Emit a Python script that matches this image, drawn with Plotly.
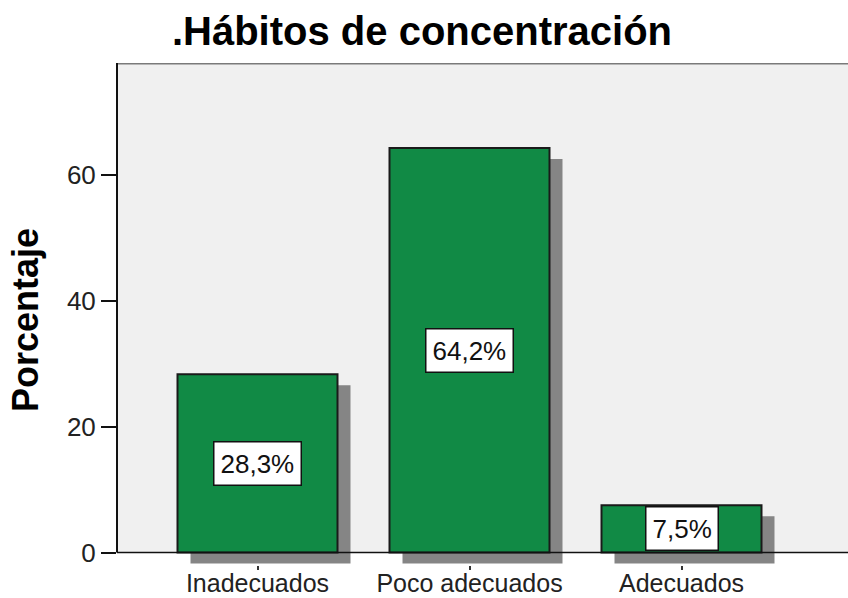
import plotly.graph_objects as go

categories = ["Inadecuados", "Poco adecuados", "Adecuados"]
percentages = [28.3, 64.2, 7.5]
value_labels = ["28,3%", "64,2%", "7,5%"]
title_text = ".Hábitos de concentración"
y_title = "Porcentaje"
y_ticks = [0, 20, 40, 60]

FONT = "Liberation Sans, Arial, sans-serif"
W, H = 848, 598
ML, MR, MT, MB = 117, 0, 63, 33
plot_w = W - ML - MR
px_per_cat = 212.0
px_per_unit = 6.3
x0 = -(257.5 - ML) / px_per_cat
x_range = [x0, x0 + plot_w / px_per_cat]
y_top = (552.5 - MT) / px_per_unit
y_bot = -(565 - 552.5) / px_per_unit

bar_w = 160 / px_per_cat
sh_dx = 13 / px_per_cat
sh_dy = 11 / px_per_unit

xs = list(range(len(categories)))

fig = go.Figure()
# shadows
fig.add_trace(go.Bar(
    x=xs, y=percentages, base=[-sh_dy] * len(xs),
    width=bar_w, offset=-bar_w / 2 + sh_dx,
    marker=dict(color="#858585", line=dict(width=0)),
    hoverinfo="skip", showlegend=False,
))
# bars
fig.add_trace(go.Bar(
    x=xs, y=percentages,
    width=bar_w, offset=-bar_w / 2,
    marker=dict(color="#118a45", line=dict(color="#1a1a1a", width=2)),
    showlegend=False,
))

annotations = []
for xi, v, lab in zip(xs, percentages, value_labels):
    annotations.append(dict(
        x=xi, y=v / 2, xref="x", yref="y", text=lab, showarrow=False,
        font=dict(family=FONT, size=26, color="#111"),
        bgcolor="white", bordercolor="#111", borderwidth=1.5, borderpad=6,
    ))
annotations.append(dict(
    x=(25 - ML) / plot_w, y=(565 - 320) / (565 - MT),
    xref="paper", yref="paper", text=f"<b>{y_title}</b>", showarrow=False,
    textangle=-90, xanchor="center", yanchor="middle",
    font=dict(family=FONT, size=36, color="#000"),
))

shapes = [
    dict(type="rect", xref="paper", yref="y", x0=0, x1=1, y0=0, y1=y_top,
         fillcolor="#f0f0f0", line=dict(width=0), layer="below"),
    dict(type="line", xref="paper", yref="y", x0=0, x1=1, y0=y_top, y1=y_top,
         line=dict(color="#7a7a7a", width=3), layer="above"),
    dict(type="line", xref="paper", yref="y", x0=0, x1=0, y0=0, y1=y_top,
         line=dict(color="#111", width=2), layer="above"),
    dict(type="line", xref="paper", yref="y", x0=0, x1=1, y0=0, y1=0,
         line=dict(color="#111", width=1.5), layer="above"),
]

fig.update_layout(
    width=W, height=H,
    margin=dict(l=ML, r=MR, t=MT, b=MB, pad=0, autoexpand=False),
    paper_bgcolor="white", plot_bgcolor="white",
    barmode="overlay",
    title=dict(text=f"<b>{title_text}</b>", x=(422) / W, xref="container", xanchor="center",
               y=1 - 31 / H, yref="container", yanchor="middle",
               font=dict(family=FONT, size=40, color="#000")),
    annotations=annotations, shapes=shapes,
    xaxis=dict(range=x_range, tickvals=xs, ticktext=categories, automargin=False,
               showline=False, showgrid=False, zeroline=False,
               ticks="outside", ticklen=4, tickcolor="#333", tickwidth=1.5,
               ticklabelstandoff=-8,
               tickfont=dict(family=FONT, size=25, color="#222")),
    yaxis=dict(range=[y_bot, y_top], tickvals=y_ticks, showline=False, automargin=False,
               showgrid=False, zeroline=False,
               ticks="outside", ticklen=15, tickcolor="#111", tickwidth=2,
               tickfont=dict(family=FONT, size=26, color="#222")),
)

fig.write_html("out.html", config={"displayModeBar": False},
               post_script="document.body.style.margin='0';document.body.style.overflow='hidden';")
